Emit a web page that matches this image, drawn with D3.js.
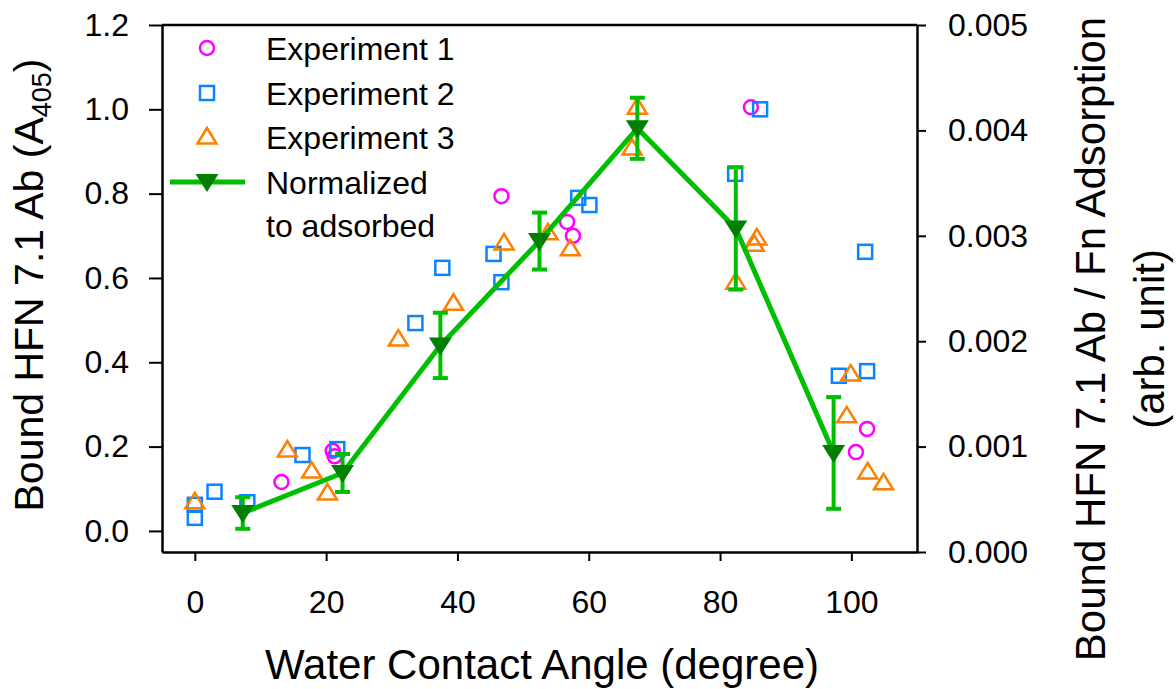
<!DOCTYPE html>
<html>
<head>
<meta charset="utf-8">
<script src="https://cdn.jsdelivr.net/npm/d3@7"></script>
<style>
body { margin: 0; background: #fff; }
text { font-family: "Liberation Sans", Arial, sans-serif; fill: #000; }
</style>
</head>
<body>
<div id="chart-area"></div>
<script>

// data
var exp1X = [13.2, 21.0, 21.3, 46.7, 56.7, 57.6, 84.7, 100.7, 102.4];
var exp1Y = [0.116, 0.190, 0.177, 0.794, 0.733, 0.700, 1.005, 0.187, 0.242];

var exp2X = [0.0, 0.0, 3.0, 8.0, 16.4, 21.7, 33.6, 37.7, 45.5, 46.7, 58.4, 60.1, 82.3, 86.1, 98.1, 102.1, 102.4];
var exp2Y = [0.031, 0.062, 0.093, 0.068, 0.180, 0.194, 0.493, 0.624, 0.657, 0.590, 0.790, 0.773, 0.847, 1.000, 0.368, 0.662, 0.379];

var exp3X = [0.0, 14.1, 17.8, 20.2, 31.0, 39.4, 47.1, 53.8, 57.2, 66.6, 67.4, 82.4, 85.2, 85.6, 99.3, 99.9, 102.5, 104.9];
var exp3Y = [0.069, 0.192, 0.142, 0.090, 0.455, 0.540, 0.683, 0.707, 0.669, 0.908, 1.005, 0.590, 0.680, 0.695, 0.273, 0.372, 0.140, 0.114];

// normalized to adsorbed (right axis)
var normX = [7.3, 22.5, 37.4, 52.5, 67.4, 82.4, 97.3];
var normY = [0.00037, 0.00075, 0.00196, 0.00295, 0.00402, 0.00307, 0.00094];
var normErr = [0.00015, 0.00018, 0.00031, 0.00027, 0.00029, 0.00058, 0.00053];

var xTicks = [0, 20, 40, 60, 80, 100];
var yLeftTicks = [0.0, 0.2, 0.4, 0.6, 0.8, 1.0, 1.2];
var yRightTicks = [0.000, 0.001, 0.002, 0.003, 0.004, 0.005];

var legendLabels = ["Experiment 1", "Experiment 2", "Experiment 3"];

// SVG drawing area
var margin = {top: 25, right: 259, bottom: 137, left: 162};
var width = 1176 - margin.left - margin.right;
var height = 689 - margin.top - margin.bottom;

var svg = d3.select("#chart-area").append("svg")
		.attr("width", 1176)
		.attr("height", 689)
	.append("g")
		.attr("transform", "translate(" + margin.left + "," + margin.top + ")");

var x = d3.scaleLinear().domain([-5, 110]).range([0, width]);
var yL = d3.scaleLinear().domain([-0.05, 1.2]).range([height, 0]);
var yR = d3.scaleLinear().domain([0, 0.005]).range([height, 0]);

var magenta = "#ff00ff", blue = "#0a84ff", orange = "#ff7f00";
var lineGreen = "#00bf00", markGreen = "#007f00";

// axes
var xAxis = d3.axisBottom(x).tickValues(xTicks).tickSize(9).tickSizeOuter(0).tickPadding(29).tickFormat(d3.format("d"));
var yAxisL = d3.axisLeft(yL).tickValues(yLeftTicks).tickSize(13).tickSizeOuter(0).tickPadding(20).tickFormat(d3.format(".1f"));
var yAxisR = d3.axisRight(yR).tickValues(yRightTicks).tickSize(9).tickSizeOuter(0).tickPadding(22).tickFormat(d3.format(".3f"));

function styleAxis(g) {
	g.selectAll("path").attr("stroke", "#000").attr("stroke-width", 2.5);
	g.selectAll("line").attr("stroke", "#000").attr("stroke-width", 2);
	g.selectAll("text").attr("font-size", 32).attr("font-family", "'Liberation Sans', Arial, sans-serif").attr("fill", "#000");
}

svg.append("g").attr("transform", "translate(0," + height + ")").call(xAxis).call(styleAxis);
svg.append("g").call(yAxisL).call(styleAxis);
svg.append("g").attr("transform", "translate(" + width + ",0)").call(yAxisR).call(styleAxis);

// top border
svg.append("line")
	.attr("x1", 0).attr("x2", width).attr("y1", 0).attr("y2", 0)
	.attr("stroke", "#000").attr("stroke-width", 2.5);

// marker symbols
function zip(xs, ys) {
	return xs.map(function(d, i){ return {x: d, y: ys[i]}; });
}

var triPath = "M0,-9L9.5,6.5L-9.5,6.5Z";

svg.selectAll(".exp1").data(zip(exp1X, exp1Y)).enter().append("circle")
	.attr("class", "exp1")
	.attr("cx", function(d){ return x(d.x); })
	.attr("cy", function(d){ return yL(d.y); })
	.attr("r", 7)
	.attr("fill", "none").attr("stroke", magenta).attr("stroke-width", 2.5);

svg.selectAll(".exp2").data(zip(exp2X, exp2Y)).enter().append("rect")
	.attr("class", "exp2")
	.attr("x", function(d){ return x(d.x) - 7; })
	.attr("y", function(d){ return yL(d.y) - 7; })
	.attr("width", 14).attr("height", 14)
	.attr("fill", "none").attr("stroke", blue).attr("stroke-width", 2.5);

svg.selectAll(".exp3").data(zip(exp3X, exp3Y)).enter().append("path")
	.attr("class", "exp3")
	.attr("d", triPath)
	.attr("transform", function(d){ return "translate(" + x(d.x) + "," + yL(d.y) + ")"; })
	.attr("fill", "none").attr("stroke", orange).attr("stroke-width", 2.5);

// normalized line with error bars
var norm = normX.map(function(d, i){ return {x: d, y: normY[i], e: normErr[i]}; });

var line = d3.line()
	.x(function(d){ return x(d.x); })
	.y(function(d){ return yR(d.y); });

svg.append("path")
	.attr("d", line(norm))
	.attr("fill", "none").attr("stroke", lineGreen).attr("stroke-width", 5)
	.attr("stroke-linejoin", "round");

var eb = svg.selectAll(".err").data(norm).enter().append("g").attr("class", "err");
eb.append("line")
	.attr("x1", function(d){ return x(d.x); }).attr("x2", function(d){ return x(d.x); })
	.attr("y1", function(d){ return yR(d.y - d.e); }).attr("y2", function(d){ return yR(d.y + d.e); });
eb.append("line")
	.attr("x1", function(d){ return x(d.x) - 7.5; }).attr("x2", function(d){ return x(d.x) + 7.5; })
	.attr("y1", function(d){ return yR(d.y - d.e); }).attr("y2", function(d){ return yR(d.y - d.e); });
eb.append("line")
	.attr("x1", function(d){ return x(d.x) - 7.5; }).attr("x2", function(d){ return x(d.x) + 7.5; })
	.attr("y1", function(d){ return yR(d.y + d.e); }).attr("y2", function(d){ return yR(d.y + d.e); });
eb.selectAll("line").attr("stroke", lineGreen).attr("stroke-width", 4);

var downTri = "M-11.5,-8L11.5,-8L0,10Z";
svg.selectAll(".normMark").data(norm).enter().append("path")
	.attr("class", "normMark")
	.attr("d", downTri)
	.attr("transform", function(d){ return "translate(" + x(d.x) + "," + yR(d.y) + ")"; })
	.attr("fill", markGreen);

// legend
var legend = svg.append("g").attr("transform", "translate(45,23)");
var legY = [0, 45, 89];

legend.append("circle").attr("cx", 0).attr("cy", legY[0]).attr("r", 7)
	.attr("fill", "none").attr("stroke", magenta).attr("stroke-width", 2.5);
legend.append("rect").attr("x", -7).attr("y", legY[1] - 7).attr("width", 14).attr("height", 14)
	.attr("fill", "none").attr("stroke", blue).attr("stroke-width", 2.5);
legend.append("path").attr("d", triPath).attr("transform", "translate(0," + legY[2] + ")")
	.attr("fill", "none").attr("stroke", orange).attr("stroke-width", 2.5);
legend.append("line").attr("x1", -37).attr("x2", 38).attr("y1", 134).attr("y2", 134)
	.attr("stroke", lineGreen).attr("stroke-width", 5);
legend.append("path").attr("d", downTri).attr("transform", "translate(0,134)").attr("fill", markGreen);

legendLabels.forEach(function(t, i){
	legend.append("text").attr("x", 59).attr("y", legY[i] + 12).attr("font-size", 32).text(t);
});
legend.append("text").attr("x", 59).attr("y", 146).attr("font-size", 32).text("Normalized");
legend.append("text").attr("x", 59).attr("y", 189).attr("font-size", 32).text("to adsorbed");

// axis titles
svg.append("text")
	.attr("x", 542 - margin.left).attr("y", 679 - margin.top)
	.attr("text-anchor", "middle").attr("font-size", 42)
	.text("Water Contact Angle (degree)");

var leftTitle = svg.append("text")
	.attr("transform", "translate(" + (43 - margin.left) + "," + (285 - margin.top) + ") rotate(-90)")
	.attr("text-anchor", "middle").attr("font-size", 41);
leftTitle.append("tspan").text("Bound HFN 7.1 Ab (A");
leftTitle.append("tspan").attr("font-size", 27).attr("dy", 8).text("405");
leftTitle.append("tspan").attr("dy", -8).text(")");

svg.append("text")
	.attr("transform", "translate(" + (1105 - margin.left) + "," + (339 - margin.top) + ") rotate(-90)")
	.attr("text-anchor", "middle").attr("font-size", 42)
	.text("Bound HFN 7.1 Ab / Fn Adsorption");
svg.append("text")
	.attr("transform", "translate(" + (1164 - margin.left) + "," + (339 - margin.top) + ") rotate(-90)")
	.attr("text-anchor", "middle").attr("font-size", 42)
	.text("(arb. unit)");

</script>
</body>
</html>
